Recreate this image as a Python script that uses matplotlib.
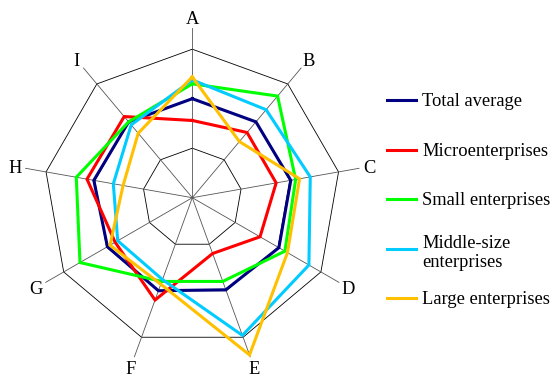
"""
    Radar chart: enterprise groups relative to the total average
"""
import numpy as np
import matplotlib
matplotlib.use("Agg")
import matplotlib.pyplot as plt
from matplotlib.lines import Line2D

# Data (ratio to total average), axes A..I clockwise from top
axis_labels = ["A", "B", "C", "D", "E", "F", "G", "H", "I"]
total_average = [1.00, 1.00, 1.01, 1.01, 0.99, 1.00, 0.99, 1.01, 1.00]
micro = [0.78, 0.86, 0.86, 0.79, 0.60, 1.10, 0.90, 1.08, 1.07]
small = [1.15, 1.34, 1.06, 1.08, 0.90, 0.90, 1.31, 1.19, 1.00]
middle = [1.19, 1.16, 1.21, 1.36, 1.48, 0.88, 0.87, 0.81, 0.96]
large = [1.22, 0.74, 1.10, 1.11, 1.69, 0.93, 0.96, 0.71, 0.85]
series_names = ["Total average", "Microenterprises", "Small enterprises",
                "Middle-size\nenterprises", "Large enterprises"]
ring_levels = [0.5, 1.0, 1.5]

# Config Figure
fig_config = {}
fig_config["line_width"] = 2.2
fig_config["font"] = "Liberation Serif"
fig_config["label_size"] = 13.3
fig_config["legend_size"] = 13.3
colors = ["#000080", "#FF0000", "#00FF00", "#00CCFF", "#FFC000"]

W, H = 554, 377
fig = plt.figure(figsize=(W / 100, H / 100), dpi=100)

# polar axes: center (192.3, 197.7) px, 99 px per unit
r_max = 1.75
unit = 99.0
cx, cy = 192.3, 197.7
rad = r_max * unit
ax = fig.add_axes([(cx - rad) / W, (H - cy - rad) / H, 2 * rad / W, 2 * rad / H],
                  projection="polar")
ax.set_theta_zero_location("N")
ax.set_theta_direction(-1)
ax.set_ylim(0, r_max)
ax.axis("off")

n = len(axis_labels)
theta = np.arange(n) * 2 * np.pi / n
theta_closed = np.append(theta, theta[0])

# grid rings and spokes
for lev in ring_levels:
    ax.plot(theta_closed, [lev] * (n + 1), color="#000000", linewidth=0.6, zorder=1)
for t in theta:
    ax.plot([t, t], [0, 1.71], color="#555555", linewidth=0.6, zorder=1)

# series
all_series = [total_average, micro, small, middle, large]
for vals, col in zip(all_series, colors):
    ax.plot(theta_closed, vals + vals[:1], color=col,
            linewidth=fig_config["line_width"], zorder=3,
            solid_joinstyle="miter")

# axis letters
for t, lab in zip(theta, axis_labels):
    ax.text(t, 1.82, lab, ha="center", va="center_baseline",
            fontsize=fig_config["label_size"], family=fig_config["font"])

# legend (manual, to keep even row spacing)
row_y = [100, 150, 199, 249, 298]
text_y = [101, 151, 200, 253, 299]
for name, col, ry, ty in zip(series_names, colors, row_y, text_y):
    fig.add_artist(Line2D([387 / W, 416 / W], [1 - ry / H, 1 - ry / H],
                          color=col, linewidth=fig_config["line_width"]))
    fig.text(422 / W, 1 - ty / H, name, ha="left", va="center",
             fontsize=fig_config["legend_size"], family=fig_config["font"],
             linespacing=1.15)

plt.savefig("out.png", dpi=100)
plt.close()
